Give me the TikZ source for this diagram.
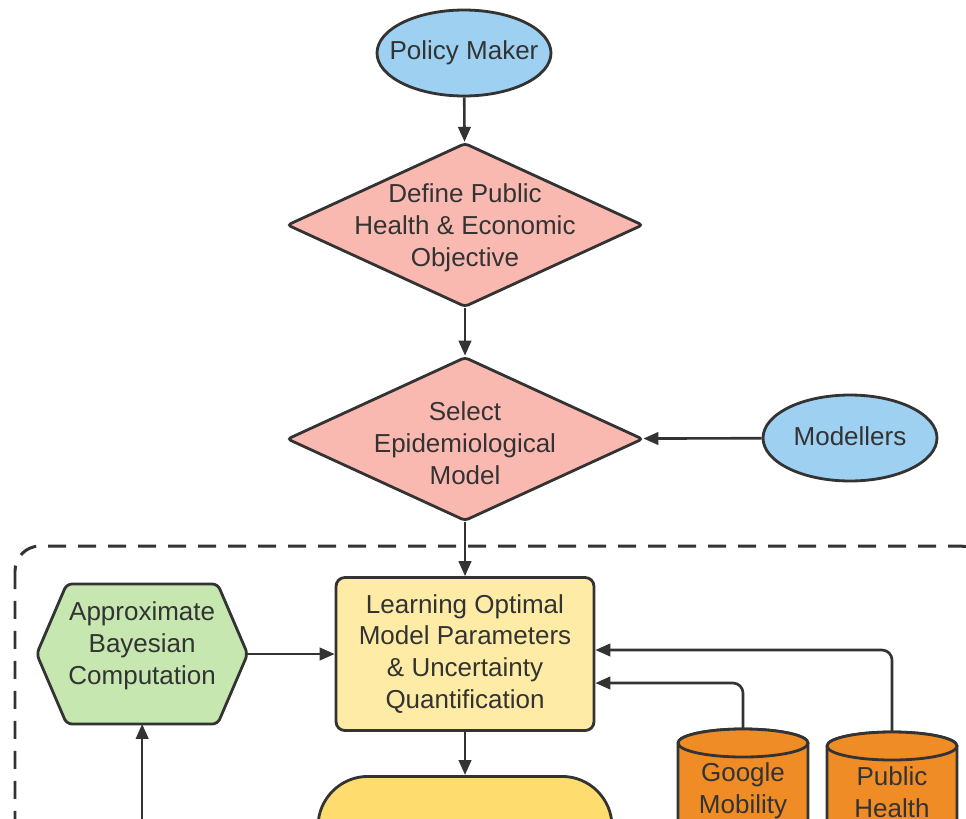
\documentclass[tikz,border=0pt]{standalone}
\usepackage{fontspec}
\setmainfont{Liberation Sans}
\usetikzlibrary{%
	calc,%
	arrows.meta,%
	shapes.geometric,%
	positioning,%
}
\tikzset{
	>={Triangle[length=0.3cm, width=0.25cm]},
	nodes={align=center},
}
\definecolor{cline}{RGB}{51, 51, 51}
\definecolor{cblue}{RGB}{157, 208, 241}
\definecolor{cpink}{RGB}{250, 185, 176}
\definecolor{cgreen}{RGB}{199, 231, 177}
\definecolor{cpale}{RGB}{254, 236, 166}
\definecolor{cgold}{RGB}{254, 221, 110}
\definecolor{corange}{RGB}{240, 140, 38}

\begin{document}
\begin{tikzpicture}[x=0.02cm, y=-0.02cm, font=\fontsize{14.8}{18.2}\selectfont, text=cline,%
		actor/.style={draw=cline, ellipse, line width=1.6pt, fill=cblue, minimum width=3.48cm, minimum height=1.72cm, inner sep=0pt},%
		choice/.style={draw=cline, diamond, line width=1.6pt, fill=cpink, minimum width=7.12cm, minimum height=3.28cm, rounded corners=2pt},%
		proc/.style={draw=cline, rectangle, line width=1.6pt, rounded corners=5pt, minimum width=5.16cm, minimum height=3.06cm, fill=cpale},%
		hole/.style={rectangle, inner sep=0pt, outer sep=0pt},%
		shell/.style={draw=cline, line width=1.6pt, line join=round},%
		link/.style={->, draw=cline, line width=1.5pt}]
	\useasboundingbox (0,0) rectangle (966,818);
	\clip (0,0) rectangle (966,818);

	\draw[cline, line width=1.7pt, dash pattern=on 0.36cm off 0.24cm, rounded corners=0.5cm] (15,546) rectangle (985,1100);

	\node[actor] (policy) at (464,53) {};
	\node (policytxt) at (policy) {Policy Maker};
	\node[choice] (define) at (465,225) {};
	\node (definetxt) at ($(define)+(0,3)$) {Define Public\\Health \& Economic\\Objective};
	\node[choice] (select) at (465,439) {};
	\node (selecttxt) at ($(select)+(0,4)$) {Select\\Epidemiological\\Model};
	\node[actor] (modellers) at (850,438) {};
	\node (modellerstxt) at ($(modellers)+(0,-2)$) {Modellers};

	\node[proc] (learn) at (465,654) {Learning Optimal\\Model Parameters\\\& Uncertainty\\Quantification};

	\node[hole, minimum width=4.22cm, minimum height=2.8cm] (abc) [left=1.74cm of learn] {};
	\draw[shell, fill=cgreen, rounded corners=3pt] (abc.west) -- ($(abc.north west)+(30,0)$) -- ($(abc.north east)+(-30,0)$) -- (abc.east) -- ($(abc.south east)+(-30,0)$) -- ($(abc.south west)+(30,0)$) -- cycle;
	\node (abctxt) at ($(abc)+(0,-8)$) {Approximate\\Bayesian\\Computation};

	\node[draw=cline, line width=1.6pt, fill=cgold, rounded corners=1cm, minimum width=5.88cm, minimum height=3cm, anchor=north] (decision) at (465,775) {};
	\node[anchor=north, inner sep=0pt] (decisiontxt) at ($(decision.north)+(0,44)$) {Robust Decision};

	% data stores
	\node[hole, minimum width=2.6cm, minimum height=4cm, anchor=north] (google) at (743,729) {};
	\draw[shell, fill=corange] ($(google.north west)+(0,14)$) -- (google.south west) -- (google.south east) -- ($(google.north east)+(0,14)$) arc[start angle=0, end angle=180, x radius=1.3cm, y radius=0.28cm] -- cycle;
	\draw[shell, fill=corange] ($(google.north)+(0,14)$) ellipse [x radius=1.3cm, y radius=0.28cm];
	\node[anchor=north, inner sep=0pt] (googletxt) at ($(google.north)+(0,33)$) {Google\\Mobility};

	\node[hole, minimum width=2.6cm, minimum height=4cm, anchor=north] (health) at (892,732) {};
	\draw[shell, fill=corange] ($(health.north west)+(0,14)$) -- (health.south west) -- (health.south east) -- ($(health.north east)+(0,14)$) arc[start angle=0, end angle=180, x radius=1.3cm, y radius=0.28cm] -- cycle;
	\draw[shell, fill=corange] ($(health.north)+(0,14)$) ellipse [x radius=1.3cm, y radius=0.28cm];
	\node[anchor=north, inner sep=0pt] (healthtxt) at ($(health.north)+(0,34)$) {Public\\Health};

	\coordinate (abcin) at ($(abc.south)+(0,120)$);

	\draw[link] (policy) -- (define);
	\draw[link] (define) -- (select);
	\draw[link] (modellers) -- (select);
	\draw[link] (select) -- (learn);
	\draw[link] (abc) -- (learn);
	\draw[link] (learn) -- (decision);
	\draw[link] (abcin) -- (abc.south);
	\draw[link, rounded corners=0.2cm] (google.north) |- ($(learn.east)+(0,29)$);
	\draw[link, rounded corners=0.2cm] (health.north) |- ($(learn.east)+(0,-4)$);
\end{tikzpicture}
\end{document}
